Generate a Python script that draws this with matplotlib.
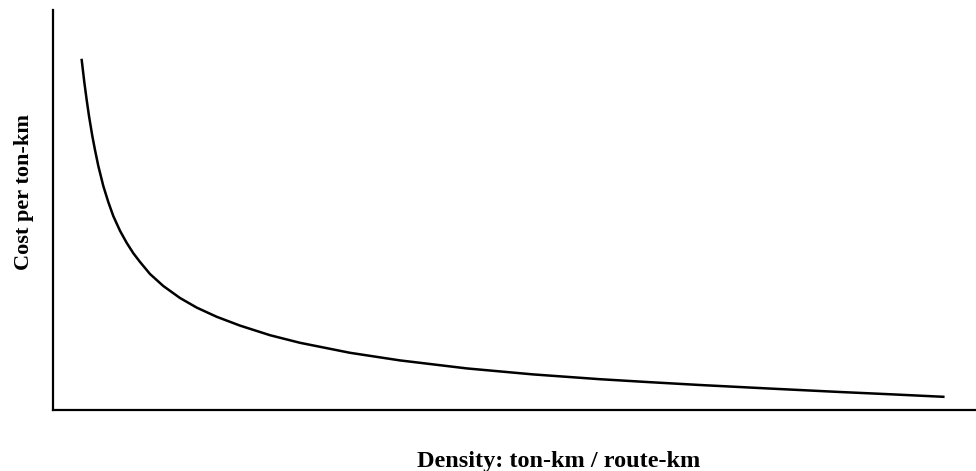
import matplotlib
matplotlib.use("Agg")
import matplotlib.pyplot as plt

density = [3.11, 3.39, 3.65, 3.90, 4.26, 4.55, 4.91, 5.45, 5.99, 6.53, 7.26,
           7.98, 8.70, 9.43, 10.51, 11.95, 13.76, 15.57, 17.74, 20.26, 23.51,
           26.76, 32.18, 37.59, 44.82, 52.0, 59.26, 64.7, 70.10, 77.32, 85.27,
           91.01, 96.46]
cost = [87.5, 82.0, 77.5, 73.5, 68.5, 65.0, 61.0, 56.0, 52.0, 48.5, 44.8,
        41.8, 39.2, 37.0, 34.0, 31.0, 28.0, 25.6, 23.3, 21.1, 18.7,
        16.8, 14.3, 12.4, 10.4, 8.9, 7.7, 6.95, 6.25, 5.4, 4.5,
        3.9, 3.3]

xlabel = "Density: ton-km / route-km"
ylabel = "Cost per ton-km"

fig = plt.figure(figsize=(9.76, 4.71), dpi=100)
ax = fig.add_axes([53/976, 1 - 410/471, 1 - 53/976, 400/471])
ax.plot(density, cost, color="black", lw=1.8, solid_joinstyle="round")
ax.set_xlim(0, 100)
ax.set_ylim(0, 100)
ax.spines["top"].set_visible(False)
ax.spines["right"].set_visible(False)
for s in ("left", "bottom"):
    ax.spines[s].set_linewidth(1.6)
ax.set_xticks([])
ax.set_yticks([])

fig.text(559/976, 1 - 461/471, xlabel, ha="center", va="center",
         fontfamily="Liberation Serif", fontweight="bold", fontsize=17.5)
fig.text(24/976, 1 - 192/471, ylabel, ha="center", va="center", rotation=90,
         fontfamily="Liberation Serif", fontweight="bold", fontsize=16)

fig.savefig("out.png", dpi=100)
